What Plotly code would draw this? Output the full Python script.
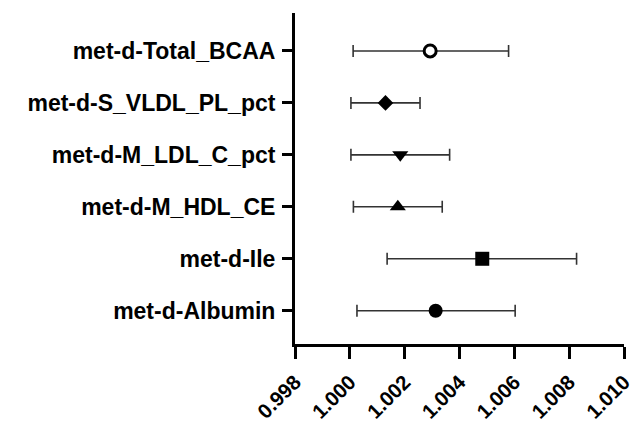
import plotly.graph_objects as go

categories = ["met-d-Albumin", "met-d-Ile", "met-d-M_HDL_CE",
              "met-d-M_LDL_C_pct", "met-d-S_VLDL_PL_pct", "met-d-Total_BCAA"]
or_values = [1.00313, 1.00483, 1.00175, 1.00184, 1.00130, 1.00293]
ci_lower = [1.00026, 1.00136, 1.00013, 1.00004, 1.00004, 1.00012]
ci_upper = [1.00603, 1.00827, 1.00337, 1.00364, 1.00256, 1.00579]
x_ticks = [0.998, 1.000, 1.002, 1.004, 1.006, 1.008, 1.010]
x_tick_labels = ["0.998", "1.000", "1.002", "1.004", "1.006", "1.008", "1.010"]

symbols = ["circle", "square", "triangle-up", "triangle-down", "diamond", "circle"]
fills = ["black", "black", "black", "black", "black", "white"]
sizes = [14, 14, 14, 14, 12, 12]

FONT = "Liberation Sans, Arial, sans-serif"

fig = go.Figure()
for i, cat in enumerate(categories):
    fig.add_trace(go.Scatter(
        x=[or_values[i]], y=[i], mode="markers",
        marker=dict(symbol=symbols[i], size=sizes[i], color=fills[i],
                    line=dict(color="black", width=3 if fills[i] == "white" else 0)),
        error_x=dict(type="data", symmetric=False,
                     array=[ci_upper[i] - or_values[i]],
                     arrayminus=[or_values[i] - ci_lower[i]],
                     color="#333333", thickness=1.6, width=6),
        showlegend=False, cliponaxis=False, hoverinfo="skip",
    ))

fig.update_layout(
    width=630, height=425,
    margin=dict(l=295, r=6, t=13, b=81),
    paper_bgcolor="white", plot_bgcolor="white",
    font=dict(family=FONT, color="black"),
    xaxis=dict(range=[0.998, 1.010], tickvals=x_ticks, ticktext=x_tick_labels,
               tickangle=-45, showgrid=False, zeroline=False, automargin=False,
               showline=True, linecolor="black", linewidth=3,
               ticks="outside", ticklen=12, tickwidth=3, tickcolor="black",
               ticklabelstandoff=3, ticklabeloverflow="allow",
               tickfont=dict(size=20.5, family=FONT, weight="bold")),
    yaxis=dict(range=[-0.64, 5.73], tickvals=list(range(len(categories))),
               ticktext=categories, showgrid=False, zeroline=False, automargin=False,
               showline=True, linecolor="black", linewidth=3,
               ticks="outside", ticklen=10, tickwidth=3, tickcolor="black",
               ticklabelstandoff=2, ticklabeloverflow="allow",
               tickfont=dict(size=23, family=FONT, weight="bold")),
)

fig.write_html("out.html", config={"displayModeBar": False},
               post_script="document.body.style.margin='0px';")
